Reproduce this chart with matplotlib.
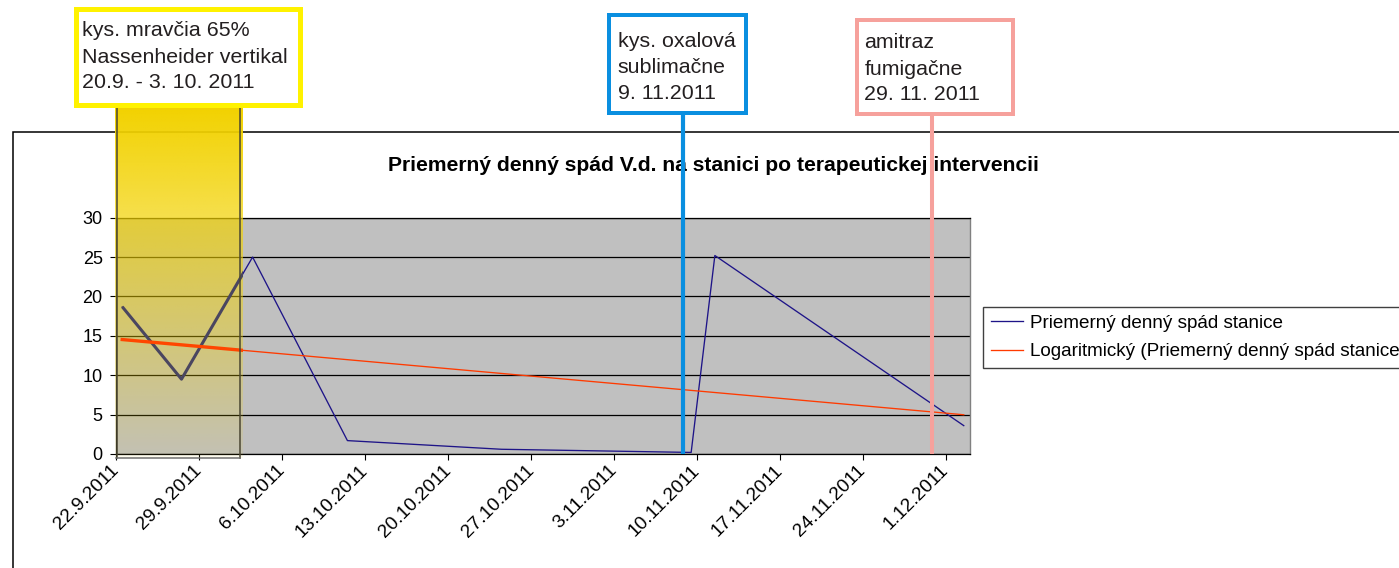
import matplotlib
matplotlib.use("Agg")
import matplotlib.pyplot as plt
import matplotlib.dates as mdates
import numpy as np
from datetime import datetime
from matplotlib.patches import Rectangle
from matplotlib.lines import Line2D

plt.rcParams['font.family'] = ['Liberation Sans', 'DejaVu Sans']

# ---------------- data ----------------
point_dates = ["22.9.2011", "27.9.2011", "3.10.2011", "11.10.2011",
               "24.10.2011", "9.11.2011", "11.11.2011", "2.12.2011"]
point_values = [18.7, 9.5, 25.0, 1.7, 0.6, 0.2, 25.2, 3.6]

tick_labels = ["22.9.2011", "29.9.2011", "6.10.2011", "13.10.2011", "20.10.2011",
               "27.10.2011", "3.11.2011", "10.11.2011", "17.11.2011", "24.11.2011",
               "1.12.2011"]
y_ticks = [0, 5, 10, 15, 20, 25, 30]
axis_start = "22.9.2011"
axis_end = "3.12.2011"

title = "Priemerný denný spád V.d. na stanici po terapeutickej intervencii"
series_label = "Priemerný denný spád stanice"
trend_label = "Logaritmický (Priemerný denný spád stanice)"

note1_lines = ["kys. mravčia 65%", "Nassenheider vertikal", "20.9. - 3. 10. 2011"]
note1_end = "3.10.2011"
note2_lines = ["kys. oxalová", "sublimačne", "9. 11.2011"]
note2_date = "9.11.2011"
note3_lines = ["amitraz", "fumigačne", "29. 11. 2011"]
note3_date = "29.11.2011"


def d(s):
    return mdates.date2num(datetime.strptime(s, "%d.%m.%Y"))


# ---------------- layout helpers ----------------
W, H = 1399, 568
fig = plt.figure(figsize=(W / 100, H / 100), dpi=100)
fig.patch.set_facecolor("white")


def fx(px):
    return px / W


def fy(py):
    return 1 - py / H


ax = fig.add_axes([fx(116.3), fy(454), (969.7 - 116.3) / W, (454 - 217.7) / H])
ax.set_facecolor("#C0C0C0")

x_pts = np.array([d(s) for s in point_dates]) + 0.5
y_pts = np.array(point_values)

# main series
ax.plot(x_pts, y_pts, color="#1E1488", lw=0.95, zorder=3)

# logarithmic trendline (Excel style, x = serial date)
excel_serial = x_pts - 0.5 - mdates.date2num(datetime(1899, 12, 30))
a, b = np.polyfit(np.log(excel_serial), y_pts, 1)
xs = np.linspace(excel_serial[0], excel_serial[-1], 400)
ys = a * np.log(xs) + b
x_trend = xs + mdates.date2num(datetime(1899, 12, 30)) + 0.5
ax.plot(x_trend, ys, color="#FF3A00", lw=0.95, zorder=3)

# axes limits / ticks
x0, x1 = d(axis_start), d(axis_end)
ax.set_xlim(x0, x1)
ax.set_ylim(0, 30)
ax.set_yticks(y_ticks)
ax.set_yticklabels([str(v) for v in y_ticks], fontsize=13)
ax.set_xticks([d(s) for s in tick_labels])
ax.set_xticklabels(tick_labels, fontsize=13.8, rotation=45, ha="right",
                   va="center", rotation_mode="anchor")
ax.tick_params(axis="y", direction="out", length=4.3, width=0.8, pad=5.5, colors="black")
ax.tick_params(axis="x", direction="out", length=4.0, width=0.8, pad=6, colors="black")
ax.yaxis.grid(True, color="black", lw=0.9)
ax.set_axisbelow(True)
for side in ["left", "bottom", "top"]:
    ax.spines[side].set_color("black")
    ax.spines[side].set_linewidth(0.9)
ax.spines["right"].set_color("#808080")
ax.spines["right"].set_linewidth(1.0)

# title
ax.text(fx(713.4), fy(170.5), title, transform=fig.transFigure, ha="center",
        va="baseline", fontsize=15.2, fontweight="bold", zorder=2, clip_on=False)

# ---------------- yellow treatment band ----------------
band_x0 = x0
band_x1 = d(note1_end) - 0.35
band_top = (454 - 107) / ((454 - 217.7) / 30)
band_bot = -0.5
n = 256
alpha = np.linspace(1.0, 0.06, n)
img = np.zeros((n, 1, 4))
img[:, 0, 0] = 242 / 255
img[:, 0, 1] = 210 / 255
img[:, 0, 2] = 0
img[:, 0, 3] = alpha
ax.imshow(img, extent=[band_x0 - 0.1, band_x1, band_bot, band_top], aspect="auto",
          origin="upper", zorder=5, clip_on=False, interpolation="bilinear")
clip_rect = Rectangle((band_x0 - 0.1, -1), band_x1 - band_x0 + 0.1, 50,
                      transform=ax.transData)
l1, = ax.plot(x_pts, y_pts, color="#4A4660", lw=2.2, zorder=6, solid_capstyle="butt")
l2, = ax.plot(x_trend, ys, color="#FF4600", lw=2.4, zorder=6)
l1.set_clip_path(clip_rect)
l2.set_clip_path(clip_rect)
edge = "#4A4632"
ax.plot([band_x0 + 0.05, band_x0 + 0.05], [band_bot, band_top], color=edge, lw=1.1,
        zorder=6, clip_on=False)
ax.plot([band_x1 - 0.2, band_x1 - 0.2], [band_bot, band_top], color=edge, lw=1.1,
        zorder=6, clip_on=False)
ax.plot([band_x0, band_x1 - 0.2], [band_bot, band_bot], color="#707070", lw=1.1,
        zorder=6, clip_on=False)

# ---------------- treatment vertical lines ----------------
line_top = (454 - 114) / ((454 - 217.7) / 30)
ax.plot([d(note2_date) - 0.2] * 2, [0, line_top], color="#0A8FE0", lw=3.0,
        zorder=7, clip_on=False, solid_capstyle="butt")
ax.plot([d(note3_date) + 0.85] * 2, [0, line_top], color="#F6A19C", lw=2.9,
        zorder=7, clip_on=False, solid_capstyle="butt")

# keep limits after imshow
ax.set_xlim(x0, x1)
ax.set_ylim(0, 30)

# ---------------- chart area border ----------------
fig.add_artist(Rectangle((fx(13.3), fy(700)), 2, fy(132.3) - fy(700),
                         transform=fig.transFigure, fill=False, edgecolor="black",
                         lw=1.1, zorder=-1))


# ---------------- annotation boxes ----------------
def note_box(left, top, right, bottom, color, bw, lines, text_x, baselines):
    half = bw / 2
    fig.add_artist(Rectangle((fx(left + half), fy(bottom - half)),
                             (right - left - bw) / W, (bottom - top - bw) / H,
                             transform=fig.transFigure, facecolor="white",
                             edgecolor=color, lw=bw * 0.72, zorder=10))
    for txt, bl in zip(lines, baselines):
        fig.text(fx(text_x), fy(bl), txt, fontsize=15.4, color="#231F20",
                 va="baseline", ha="left", zorder=11)


note_box(73, 6, 302, 107, "#FFF200", 5, note1_lines, 81.7, [36, 63, 88.5])
note_box(606.7, 13.3, 747.7, 115, "#0A8FE0", 4, note2_lines, 617.7, [46.7, 73.3, 99.3])
note_box(855.3, 18.3, 1015, 115.7, "#F6A19C", 4, note3_lines, 864.3, [47.7, 75, 100])

# ---------------- legend ----------------
handles = [Line2D([], [], color="#1E1488", lw=0.95),
           Line2D([], [], color="#FF3A00", lw=0.95)]
leg = ax.legend(handles, [series_label, trend_label], loc="upper left",
                bbox_to_anchor=(fx(983), fy(306.7)), bbox_transform=fig.transFigure,
                borderaxespad=0, fontsize=13.6, frameon=True, fancybox=False,
                edgecolor="#404040", framealpha=1, handlelength=1.7,
                handletextpad=0.35, borderpad=0.42, labelspacing=0.6)
leg.get_frame().set_linewidth(1.0)
leg.set_zorder(8)

fig.savefig("out.png", dpi=100)
